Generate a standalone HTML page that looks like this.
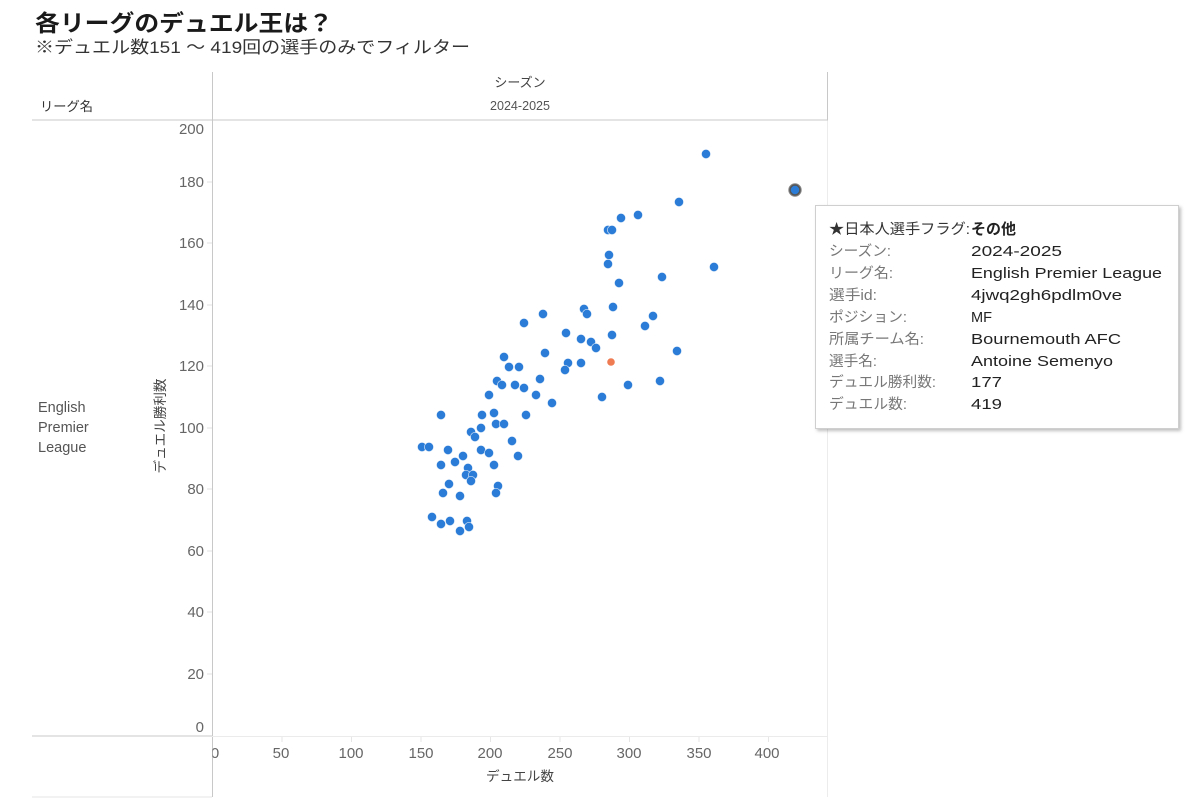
<!DOCTYPE html>
<html>
<head>
<meta charset="utf-8">
<style>
  html,body{margin:0;padding:0;background:#fff;}
  body{width:1200px;height:808px;overflow:hidden;}
  svg{display:block;}
  text{font-family:"Liberation Sans","Noto Sans CJK JP",sans-serif;}
</style>
</head>
<body>
<svg width="1200" height="808" viewBox="0 0 1200 808" xmlns="http://www.w3.org/2000/svg">
  <defs>
    <clipPath id="xclip"><rect x="212.5" y="740" width="620" height="30"/></clipPath>
    <filter id="sh" x="-5%" y="-5%" width="115%" height="120%">
      <feDropShadow dx="2" dy="2" stdDeviation="1.5" flood-color="#000" flood-opacity="0.25"/>
    </filter>
  </defs>

  <!-- Title -->
  <text x="35" y="31" font-size="23" font-weight="bold" fill="#1a1a1a" textLength="298" lengthAdjust="spacingAndGlyphs">各リーグのデュエル王は？</text>
  <text x="35" y="53" font-size="17" fill="#333" textLength="435" lengthAdjust="spacingAndGlyphs">※デュエル数151 ～ 419回の選手のみでフィルター</text>

  <!-- Header / frame lines -->
  <line x1="212.5" y1="72" x2="212.5" y2="797" stroke="#c8c8c8" stroke-width="1"/>
  <line x1="827.5" y1="72" x2="827.5" y2="120" stroke="#c8c8c8" stroke-width="1"/>
  <line x1="827.5" y1="120" x2="827.5" y2="797" stroke="#ececec" stroke-width="1"/>
  <line x1="32" y1="120" x2="828" y2="120" stroke="#c8c8c8" stroke-width="1"/>
  <line x1="32" y1="736" x2="212" y2="736" stroke="#c8c8c8" stroke-width="1"/>
  <line x1="212" y1="736.5" x2="828" y2="736.5" stroke="#ebebeb" stroke-width="1"/>
  <line x1="32" y1="797" x2="212" y2="797" stroke="#e6e6e6" stroke-width="1"/>

  <!-- Header labels -->
  <text x="520" y="87" font-size="13" fill="#444" text-anchor="middle">シーズン</text>
  <text x="520" y="110" font-size="13" fill="#555" text-anchor="middle" textLength="60" lengthAdjust="spacingAndGlyphs">2024-2025</text>
  <text x="40" y="111" font-size="13" fill="#333" textLength="53" lengthAdjust="spacingAndGlyphs">リーグ名</text>

  <!-- Row label -->
  <text x="38" y="412" font-size="14.5" fill="#555">English</text>
  <text x="38" y="432" font-size="14.5" fill="#555">Premier</text>
  <text x="38" y="452" font-size="14.5" fill="#555">League</text>

  <!-- Y axis title -->
  <text transform="translate(165,426) rotate(-90)" font-size="13.5" fill="#444" text-anchor="middle" textLength="95" lengthAdjust="spacingAndGlyphs">デュエル勝利数</text>

  <!-- Y tick labels -->
  <g font-size="15" fill="#666" text-anchor="end">
    <text x="204" y="134">200</text>
    <text x="204" y="187">180</text>
    <text x="204" y="248">160</text>
    <text x="204" y="310">140</text>
    <text x="204" y="371">120</text>
    <text x="204" y="433">100</text>
    <text x="204" y="494">80</text>
    <text x="204" y="556">60</text>
    <text x="204" y="617">40</text>
    <text x="204" y="679">20</text>
    <text x="204" y="732">0</text>
  </g>
  <!-- Y tick marks -->
  <g stroke="#e2e2e2" stroke-width="1">
    <line x1="207" y1="182" x2="212" y2="182"/>
    <line x1="207" y1="243" x2="212" y2="243"/>
    <line x1="207" y1="305" x2="212" y2="305"/>
    <line x1="207" y1="366" x2="212" y2="366"/>
    <line x1="207" y1="428" x2="212" y2="428"/>
    <line x1="207" y1="489" x2="212" y2="489"/>
    <line x1="207" y1="551" x2="212" y2="551"/>
    <line x1="207" y1="612" x2="212" y2="612"/>
    <line x1="207" y1="674" x2="212" y2="674"/>
  </g>

  <!-- X tick marks -->
  <g stroke="#e6e6e6" stroke-width="1">
    <line x1="282" y1="737" x2="282" y2="742"/>
    <line x1="351.5" y1="737" x2="351.5" y2="742"/>
    <line x1="421" y1="737" x2="421" y2="742"/>
    <line x1="490.5" y1="737" x2="490.5" y2="742"/>
    <line x1="560" y1="737" x2="560" y2="742"/>
    <line x1="629.5" y1="737" x2="629.5" y2="742"/>
    <line x1="699" y1="737" x2="699" y2="742"/>
    <line x1="768.5" y1="737" x2="768.5" y2="742"/>
  </g>
  <!-- X tick labels -->
  <g font-size="15" fill="#666" text-anchor="middle">
    <text x="215" y="758" clip-path="url(#xclip)">0</text>
    <text x="281" y="758">50</text>
    <text x="351" y="758">100</text>
    <text x="421" y="758">150</text>
    <text x="490" y="758">200</text>
    <text x="560" y="758">250</text>
    <text x="629" y="758">300</text>
    <text x="699" y="758">350</text>
    <text x="767" y="758">400</text>
  </g>
  <text x="520" y="781" font-size="13.5" fill="#444" text-anchor="middle" textLength="68" lengthAdjust="spacingAndGlyphs">デュエル数</text>

  <!-- Data points -->
  <g fill="#2b7cd6" stroke="#ffffff" stroke-width="0.8" stroke-opacity="0.7">
    <circle cx="706" cy="154" r="4.6"/>
    <circle cx="679" cy="202" r="4.6"/>
    <circle cx="621" cy="218" r="4.6"/>
    <circle cx="638" cy="215" r="4.6"/>
    <circle cx="608" cy="230" r="4.6"/>
    <circle cx="612" cy="230" r="4.6"/>
    <circle cx="609" cy="255" r="4.6"/>
    <circle cx="608" cy="264" r="4.6"/>
    <circle cx="619" cy="283" r="4.6"/>
    <circle cx="662" cy="277" r="4.6"/>
    <circle cx="714" cy="267" r="4.6"/>
    <circle cx="584" cy="309" r="4.6"/>
    <circle cx="613" cy="307" r="4.6"/>
    <circle cx="653" cy="316" r="4.6"/>
    <circle cx="645" cy="326" r="4.6"/>
    <circle cx="612" cy="335" r="4.6"/>
    <circle cx="677" cy="351" r="4.6"/>
    <circle cx="628" cy="385" r="4.6"/>
    <circle cx="660" cy="381" r="4.6"/>
    <circle cx="602" cy="397" r="4.6"/>
    <circle cx="587" cy="314" r="4.6"/>
    <circle cx="543" cy="314" r="4.6"/>
    <circle cx="524" cy="323" r="4.6"/>
    <circle cx="566" cy="333" r="4.6"/>
    <circle cx="581" cy="339" r="4.6"/>
    <circle cx="591" cy="342" r="4.6"/>
    <circle cx="596" cy="348" r="4.6"/>
    <circle cx="545" cy="353" r="4.6"/>
    <circle cx="504" cy="357" r="4.6"/>
    <circle cx="509" cy="367" r="4.6"/>
    <circle cx="519" cy="367" r="4.6"/>
    <circle cx="568" cy="363" r="4.6"/>
    <circle cx="581" cy="363" r="4.6"/>
    <circle cx="565" cy="370" r="4.6"/>
    <circle cx="540" cy="379" r="4.6"/>
    <circle cx="497" cy="381" r="4.6"/>
    <circle cx="502" cy="385" r="4.6"/>
    <circle cx="515" cy="385" r="4.6"/>
    <circle cx="524" cy="388" r="4.6"/>
    <circle cx="536" cy="395" r="4.6"/>
    <circle cx="489" cy="395" r="4.6"/>
    <circle cx="552" cy="403" r="4.6"/>
    <circle cx="441" cy="415" r="4.6"/>
    <circle cx="482" cy="415" r="4.6"/>
    <circle cx="494" cy="413" r="4.6"/>
    <circle cx="526" cy="415" r="4.6"/>
    <circle cx="471" cy="432" r="4.6"/>
    <circle cx="481" cy="428" r="4.6"/>
    <circle cx="496" cy="424" r="4.6"/>
    <circle cx="504" cy="424" r="4.6"/>
    <circle cx="475" cy="437" r="4.6"/>
    <circle cx="512" cy="441" r="4.6"/>
    <circle cx="422" cy="447" r="4.6"/>
    <circle cx="429" cy="447" r="4.6"/>
    <circle cx="448" cy="450" r="4.6"/>
    <circle cx="463" cy="456" r="4.6"/>
    <circle cx="481" cy="450" r="4.6"/>
    <circle cx="489" cy="453" r="4.6"/>
    <circle cx="518" cy="456" r="4.6"/>
    <circle cx="441" cy="465" r="4.6"/>
    <circle cx="455" cy="462" r="4.6"/>
    <circle cx="468" cy="468" r="4.6"/>
    <circle cx="494" cy="465" r="4.6"/>
    <circle cx="466" cy="475" r="4.6"/>
    <circle cx="473" cy="475" r="4.6"/>
    <circle cx="471" cy="481" r="4.6"/>
    <circle cx="449" cy="484" r="4.6"/>
    <circle cx="443" cy="493" r="4.6"/>
    <circle cx="460" cy="496" r="4.6"/>
    <circle cx="498" cy="486" r="4.6"/>
    <circle cx="496" cy="493" r="4.6"/>
    <circle cx="432" cy="517" r="4.6"/>
    <circle cx="441" cy="524" r="4.6"/>
    <circle cx="450" cy="521" r="4.6"/>
    <circle cx="467" cy="521" r="4.6"/>
    <circle cx="469" cy="527" r="4.6"/>
    <circle cx="460" cy="531" r="4.6"/>
  </g>
  <!-- Orange (Japanese player) -->
  <circle cx="611" cy="362" r="3.8" fill="#ef7b52"/>
  <!-- Highlighted point -->
  <circle cx="795" cy="190" r="6.2" fill="#555" stroke="#888" stroke-width="1"/>
  <circle cx="795" cy="190" r="4.2" fill="#2b7cd6"/>

  <!-- Tooltip -->
  <rect x="815.5" y="205.5" width="363" height="223" fill="#fff" stroke="#cfcfcf" stroke-width="1" filter="url(#sh)"/>
  <g font-size="14.5">
    <text x="829" y="234" fill="#333" textLength="141" lengthAdjust="spacingAndGlyphs">★日本人選手フラグ:</text>
    <text x="829" y="256" fill="#777" textLength="62" lengthAdjust="spacingAndGlyphs">シーズン:</text>
    <text x="829" y="278" fill="#777" textLength="64" lengthAdjust="spacingAndGlyphs">リーグ名:</text>
    <text x="829" y="300" fill="#777" textLength="48" lengthAdjust="spacingAndGlyphs">選手id:</text>
    <text x="829" y="322" fill="#777" textLength="78" lengthAdjust="spacingAndGlyphs">ポジション:</text>
    <text x="829" y="344" fill="#777" textLength="95" lengthAdjust="spacingAndGlyphs">所属チーム名:</text>
    <text x="829" y="366" fill="#777" textLength="48" lengthAdjust="spacingAndGlyphs">選手名:</text>
    <text x="829" y="387" fill="#777" textLength="107" lengthAdjust="spacingAndGlyphs">デュエル勝利数:</text>
    <text x="829" y="409" fill="#777" textLength="78" lengthAdjust="spacingAndGlyphs">デュエル数:</text>
  </g>
  <g font-size="15" fill="#222">
    <text x="971" y="234" font-weight="bold" textLength="45" lengthAdjust="spacingAndGlyphs">その他</text>
    <text x="971" y="256" textLength="91" lengthAdjust="spacingAndGlyphs">2024-2025</text>
    <text x="971" y="278" textLength="191" lengthAdjust="spacingAndGlyphs">English Premier League</text>
    <text x="971" y="300" textLength="151" lengthAdjust="spacingAndGlyphs">4jwq2gh6pdlm0ve</text>
    <text x="971" y="322" textLength="21" lengthAdjust="spacingAndGlyphs">MF</text>
    <text x="971" y="344" textLength="150" lengthAdjust="spacingAndGlyphs">Bournemouth AFC</text>
    <text x="971" y="366" textLength="142" lengthAdjust="spacingAndGlyphs">Antoine Semenyo</text>
    <text x="971" y="387" textLength="31" lengthAdjust="spacingAndGlyphs">177</text>
    <text x="971" y="409" textLength="31" lengthAdjust="spacingAndGlyphs">419</text>
  </g>
</svg>
</body>
</html>
